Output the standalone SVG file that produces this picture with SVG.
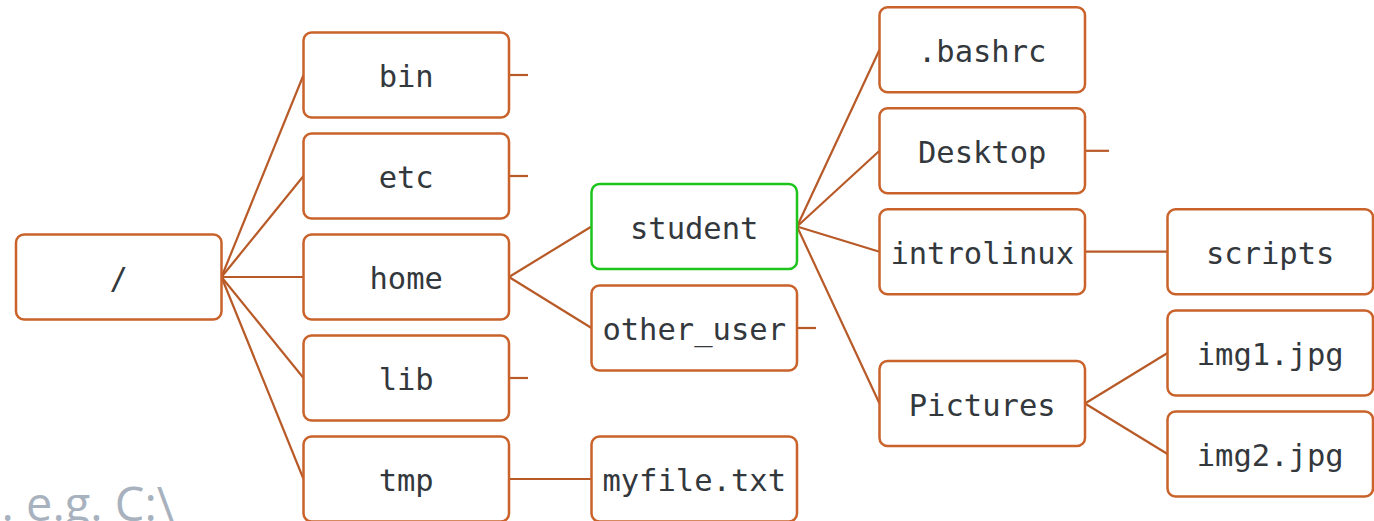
<svg xmlns="http://www.w3.org/2000/svg" width="1374" height="521" viewBox="0 0 1374 521">
<style>
.n rect{fill:#fff;stroke:#c9622b;stroke-width:2.5}
.n.g rect{stroke:#1cc41c}
.n text{font-family:"DejaVu Sans Mono","Liberation Mono",monospace;font-size:30.5px;fill:#33383d;text-anchor:middle}
#edges line{stroke:#b85a27;stroke-width:2.2}
.note{font-family:"Open Sans","Noto Sans",sans-serif;font-size:47px;fill:#a8b2be;text-anchor:end}
</style>
<rect width="1374" height="521" fill="#fff"/>
<text class="note" x="174" y="521">. e.g. C:\</text>
<g id="edges">
<line x1="221.5" y1="277" x2="303.5" y2="75"/>
<line x1="221.5" y1="277" x2="303.5" y2="176"/>
<line x1="221.5" y1="277" x2="303.5" y2="277"/>
<line x1="221.5" y1="277" x2="303.5" y2="378"/>
<line x1="221.5" y1="277" x2="303.5" y2="479"/>
<line x1="509" y1="75" x2="528" y2="75"/>
<line x1="509" y1="176" x2="528" y2="176"/>
<line x1="509" y1="378" x2="528" y2="378"/>
<line x1="509" y1="277" x2="591.5" y2="226.5"/>
<line x1="509" y1="277" x2="591.5" y2="328"/>
<line x1="509" y1="479" x2="591.5" y2="479"/>
<line x1="797" y1="328" x2="816" y2="328"/>
<line x1="797" y1="226.5" x2="879.5" y2="49.7"/>
<line x1="797" y1="226.5" x2="879.5" y2="150.8"/>
<line x1="797" y1="226.5" x2="879.5" y2="251.7"/>
<line x1="797" y1="226.5" x2="879.5" y2="403.5"/>
<line x1="1085" y1="150.8" x2="1109" y2="150.8"/>
<line x1="1085" y1="251.7" x2="1167.5" y2="251.7"/>
<line x1="1085" y1="403.5" x2="1167.5" y2="353"/>
<line x1="1085" y1="403.5" x2="1167.5" y2="454"/>
</g>
<g id="root" class="n"><rect x="16" y="234.5" width="205.5" height="85" rx="8"/><text x="118.7" y="289">/</text></g>
<g id="bin" class="n"><rect x="303.5" y="32.5" width="205.5" height="85" rx="8"/><text x="406.2" y="87">bin</text></g>
<g id="etc" class="n"><rect x="303.5" y="133.5" width="205.5" height="85" rx="8"/><text x="406.2" y="188">etc</text></g>
<g id="home" class="n"><rect x="303.5" y="234.5" width="205.5" height="85" rx="8"/><text x="406.2" y="289">home</text></g>
<g id="lib" class="n"><rect x="303.5" y="335.5" width="205.5" height="85" rx="8"/><text x="406.2" y="390">lib</text></g>
<g id="tmp" class="n"><rect x="303.5" y="436.5" width="205.5" height="85" rx="8"/><text x="406.2" y="491">tmp</text></g>
<g id="student" class="n g"><rect x="591.5" y="184" width="205.5" height="85" rx="8"/><text x="694.2" y="238.5">student</text></g>
<g id="other_user" class="n"><rect x="591.5" y="285.5" width="205.5" height="85" rx="8"/><text x="694.2" y="340">other_user</text></g>
<g id="myfile" class="n"><rect x="591.5" y="436.5" width="205.5" height="85" rx="8"/><text x="694.2" y="491">myfile.txt</text></g>
<g id="bashrc" class="n"><rect x="879.5" y="7.2" width="205.5" height="85" rx="8"/><text x="982.2" y="61.7">.bashrc</text></g>
<g id="desktop" class="n"><rect x="879.5" y="108.3" width="205.5" height="85" rx="8"/><text x="982.2" y="162.8">Desktop</text></g>
<g id="introlinux" class="n"><rect x="879.5" y="209.2" width="205.5" height="85" rx="8"/><text x="982.2" y="263.7">introlinux</text></g>
<g id="pictures" class="n"><rect x="879.5" y="361" width="205.5" height="85" rx="8"/><text x="982.2" y="415.5">Pictures</text></g>
<g id="scripts" class="n"><rect x="1167.5" y="209.2" width="205.5" height="85" rx="8"/><text x="1270.2" y="263.7">scripts</text></g>
<g id="img1" class="n"><rect x="1167.5" y="310.5" width="205.5" height="85" rx="8"/><text x="1270.2" y="365">img1.jpg</text></g>
<g id="img2" class="n"><rect x="1167.5" y="411.5" width="205.5" height="85" rx="8"/><text x="1270.2" y="466">img2.jpg</text></g>
</svg>
